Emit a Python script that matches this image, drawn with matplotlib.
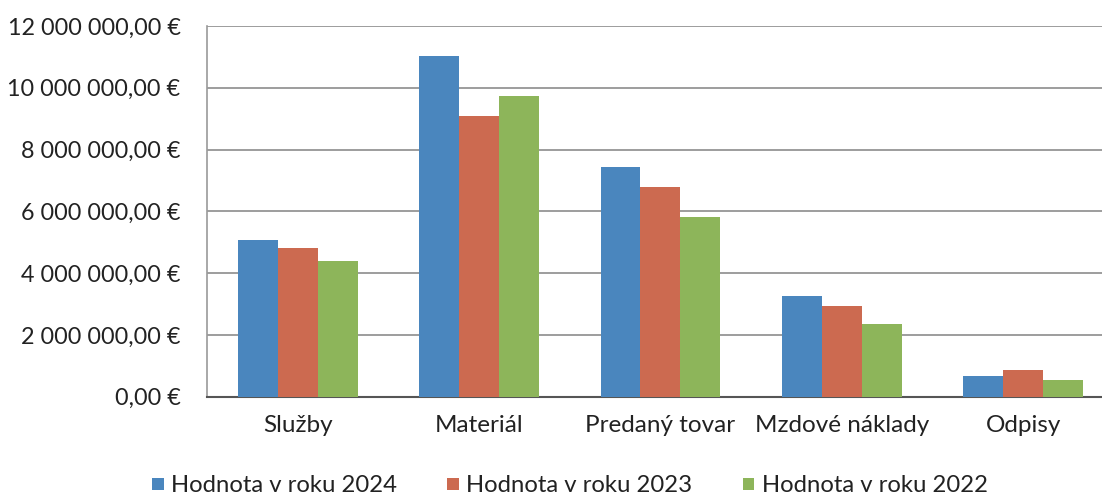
import numpy as np
import matplotlib.pyplot as plt
from matplotlib.ticker import FuncFormatter

plt.rcParams['font.family'] = ['Lato', 'DejaVu Sans']

categories = ["Služby", "Materiál", "Predaný tovar", "Mzdové náklady", "Odpisy"]
series = ["Hodnota v roku 2024", "Hodnota v roku 2023", "Hodnota v roku 2022"]
v2024 = [5070000, 11030000, 7420000, 3270000, 670000]
v2023 = [4800000, 9080000, 6780000, 2940000, 860000]
v2022 = [4390000, 9740000, 5830000, 2350000, 540000]
colors = ["#4A86BE", "#CC6A50", "#8DB55A"]

fig = plt.figure(figsize=(11.02, 4.97), dpi=100)
ax = fig.add_axes([207/1102, 1 - 396.7/497, (1102-207)/1102, (396.7-26)/497])

x = np.arange(len(categories))
w = 0.22
for i, (vals, name) in enumerate(zip([v2024, v2023, v2022], series)):
    ax.bar(x + (i - 1) * w, vals, w, color=colors[i], label=name, zorder=3)

ax.set_xlim(-0.5, 4.435)
ax.set_ylim(0, 12000000)
ax.set_yticks(np.arange(0, 12000001, 2000000))


def fmt(v, pos):
    s = f"{int(v):,}".replace(",", " ")
    return s + ",00 €"


ax.yaxis.set_major_formatter(FuncFormatter(fmt))
ax.grid(axis='y', color='#8c8c8c', linewidth=1.2, zorder=0)
ax.set_axisbelow(True)
for s in ['top', 'right']:
    ax.spines[s].set_visible(False)
ax.spines['left'].set_color('#9a9a9a')
ax.spines['left'].set_linewidth(1.2)
ax.spines['bottom'].set_color('#555555')
ax.spines['bottom'].set_linewidth(1.5)
ax.tick_params(axis='y', length=0, pad=19, labelsize=16.8, colors='#222222')
ax.tick_params(axis='x', length=0, pad=13, labelsize=17.5, colors='#222222')
ax.set_xticks(x)
ax.set_xticklabels(categories)

fig.legend(loc='center', bbox_to_anchor=(0.517, 1 - 486/497), ncol=3, frameon=False,
           fontsize=17.2, handlelength=0.5, handleheight=0.4, handletextpad=0.3,
           columnspacing=2.1, labelcolor='#222222', borderpad=0)

fig.savefig("out.png", dpi=100)
